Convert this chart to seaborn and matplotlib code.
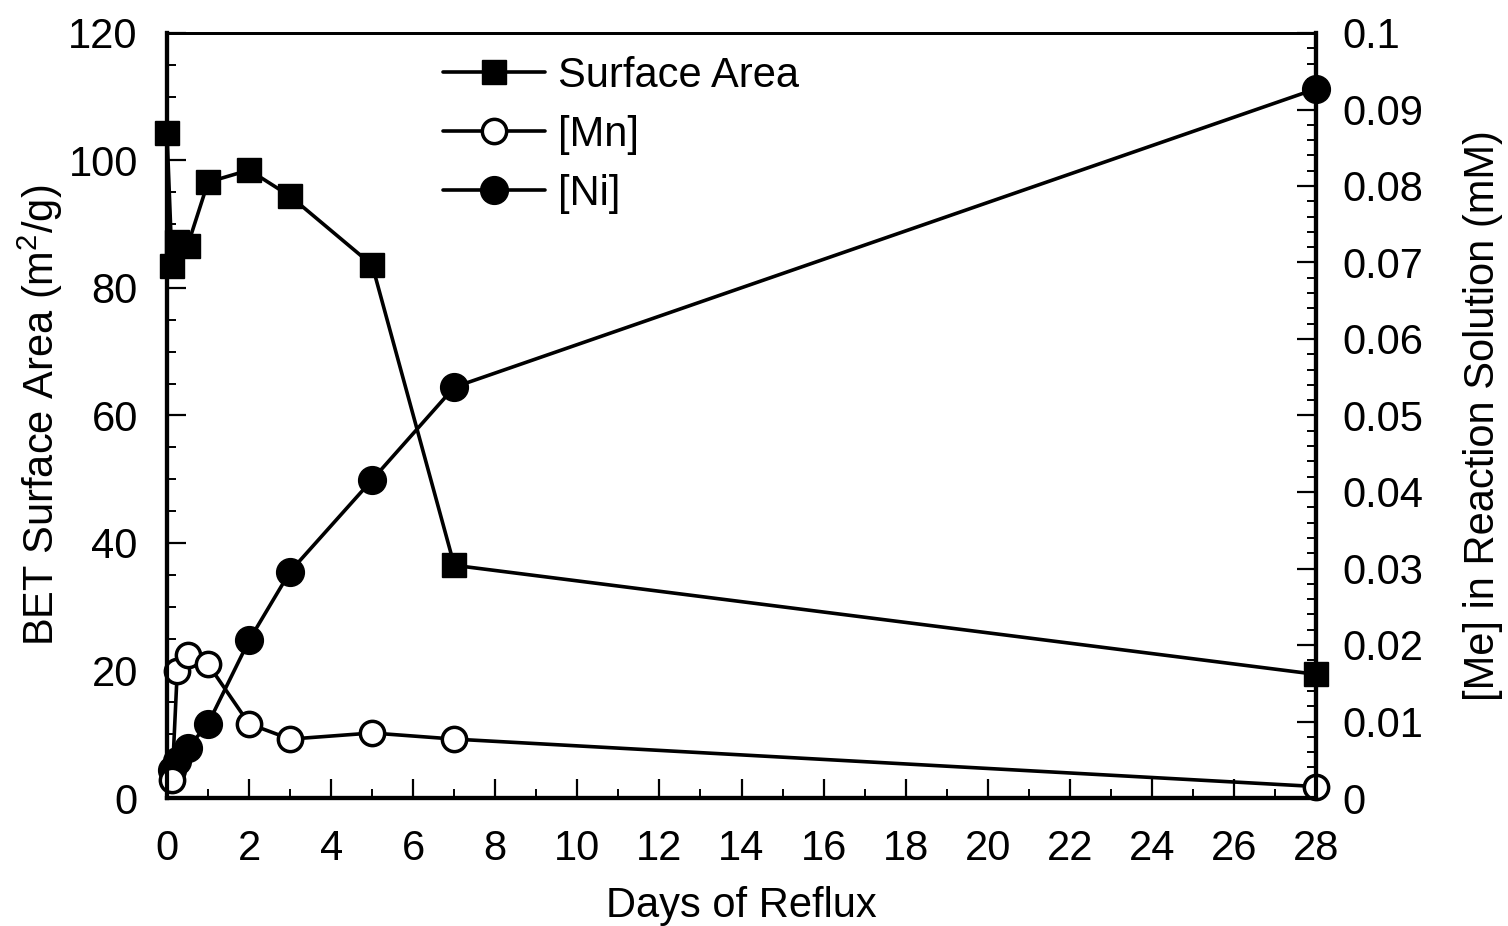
import matplotlib
matplotlib.use("Agg")
import matplotlib.pyplot as plt
from matplotlib.ticker import MultipleLocator
import seaborn as sns

# Reflux time (days) and measured values
days_sa = [0, 0.125, 0.25, 0.5, 1, 2, 3, 5, 7, 28]
surface_area = [104.3, 83.5, 87.2, 86.6, 96.6, 98.5, 94.4, 83.6, 36.5, 19.4]

days_me = [0.125, 0.25, 0.5, 1, 2, 3, 5, 7, 28]
mn_conc = [0.0024, 0.0166, 0.0187, 0.0175, 0.0097, 0.0077, 0.0085, 0.0077, 0.0015]
ni_conc = [0.0036, 0.0048, 0.0065, 0.0097, 0.0206, 0.0296, 0.0416, 0.0537, 0.0927]

x_ticks = list(range(0, 29, 2))
left_ticks = [0, 20, 40, 60, 80, 100, 120]
right_ticks = [0, 0.01, 0.02, 0.03, 0.04, 0.05, 0.06, 0.07, 0.08, 0.09, 0.1]
right_tick_labels = ["0", "0.01", "0.02", "0.03", "0.04", "0.05", "0.06",
                     "0.07", "0.08", "0.09", "0.1"]

sns.set_style("white")
plt.rcParams["font.family"] = ["Liberation Sans", "DejaVu Sans"]
plt.rcParams["mathtext.default"] = "regular"
for key in ("text.color", "axes.labelcolor", "xtick.color", "ytick.color",
            "axes.edgecolor"):
    plt.rcParams[key] = "black"

FS = 30
fig = plt.figure(figsize=(15.08, 9.26), dpi=100)
ax = fig.add_axes([167 / 1508, 1 - 798 / 926, 1149 / 1508, 765 / 926])
ax2 = ax.twinx()

line_kw = dict(color="black", linewidth=2.6, clip_on=False, legend=False)

sns.lineplot(x=days_sa, y=surface_area, ax=ax, marker="s", markersize=17,
             markerfacecolor="black", markeredgecolor="black",
             markeredgewidth=1, label="Surface Area", **line_kw)
sns.lineplot(x=days_me, y=ni_conc, ax=ax2, marker="o", markersize=20,
             markerfacecolor="black", markeredgecolor="black",
             markeredgewidth=1, label="[Ni]", **line_kw)
sns.lineplot(x=days_me, y=mn_conc, ax=ax2, marker="o", markersize=17.5,
             markerfacecolor="white", markeredgecolor="black",
             markeredgewidth=2.5, label="[Mn]", **line_kw)

ax.set_xlim(0, 28)
ax.set_ylim(0, 120)
ax2.set_ylim(0, 0.1)

ax.set_xticks(x_ticks)
ax.set_xticklabels([str(v) for v in x_ticks])
ax.xaxis.set_minor_locator(MultipleLocator(1))
ax.set_yticks(left_ticks)
ax.set_yticklabels([str(v) for v in left_ticks])
ax.yaxis.set_minor_locator(MultipleLocator(5))
ax2.set_yticks(right_ticks)
ax2.set_yticklabels(right_tick_labels)
ax2.yaxis.set_minor_locator(MultipleLocator(0.002))

ax.tick_params(axis="x", which="both", direction="in", bottom=True, top=False,
               labelsize=FS, pad=22)
ax.tick_params(axis="y", which="both", direction="in", left=True, right=False,
               labelsize=FS, pad=21)
ax2.tick_params(axis="y", which="both", direction="in", right=True, left=False,
                labelsize=FS, pad=19)
for a in (ax, ax2):
    a.tick_params(which="major", length=14, width=1.6, color="black")
    a.tick_params(which="minor", length=6.5, width=1.4, color="black")
    for side, sp in a.spines.items():
        sp.set_color("black")
        sp.set_linewidth(2 if side == "top" else 3)

ax.set_xlabel("Days of Reflux", fontsize=FS)
ax.set_ylabel("BET Surface Area (m$^{2}$/g)", fontsize=FS)
ax2.set_ylabel("[Me] in Reaction Solution (mM)", fontsize=FS)
ax.xaxis.set_label_coords(0.5, -0.115)
ax.yaxis.set_label_coords(-0.089, 0.5)
ax2.yaxis.set_label_coords(1.128, 0.5)

h_sa = ax.lines[0]
h_ni, h_mn = ax2.lines[0], ax2.lines[1]
fig.legend([h_sa, h_mn, h_ni], ["Surface Area", "[Mn]", "[Ni]"],
           loc="upper left", bbox_to_anchor=(443 / 1508, 1 - 56 / 926),
           frameon=False, fontsize=FS, handlelength=2.45, handletextpad=0.3,
           labelspacing=0.45, borderpad=0, borderaxespad=0, markerscale=1.0)

fig.savefig("out.png", dpi=100, facecolor="white")
